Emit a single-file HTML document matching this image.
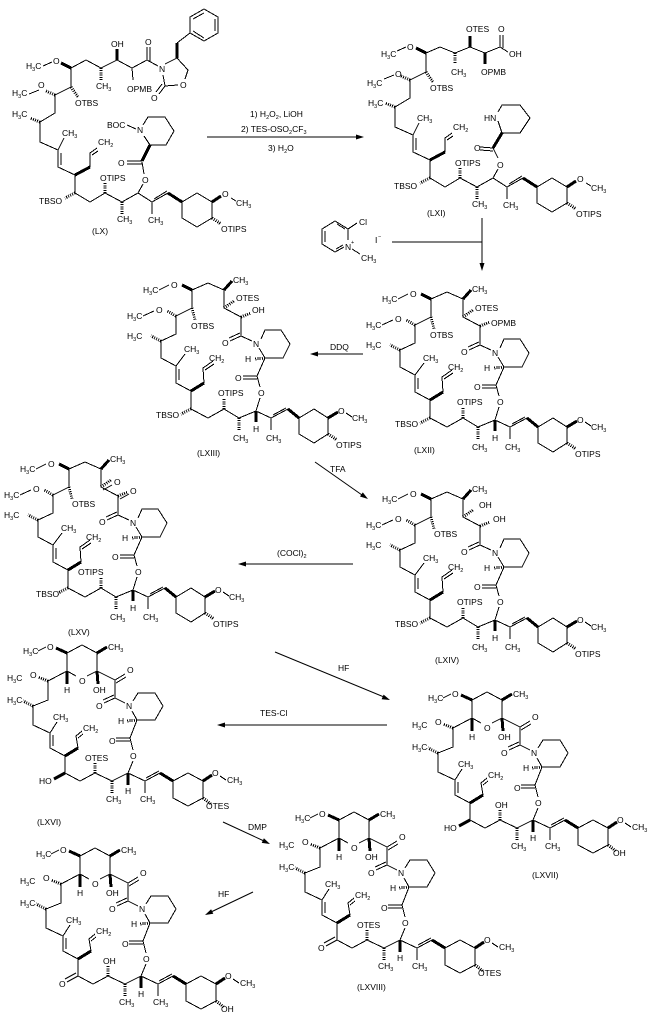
<!DOCTYPE html>
<html><head><meta charset="utf-8"><style>
html,body{margin:0;padding:0;background:#fff;}
svg{display:block;}
text{font-family:"Liberation Sans",Arial,sans-serif;font-size:8.5px;fill:#000;}
.s{font-size:5.5px;}
</style></head><body>
<svg width="652" height="1019" viewBox="0 0 652 1019" xmlns="http://www.w3.org/2000/svg">
<rect width="652" height="1019" fill="#fff"/>
<defs>
<g id="mac" fill="none" stroke="#000" stroke-width="1" shape-rendering="crispEdges">
<path d="M431,299 L447,292 L463,299 L463,317 L480,326 L480,345 L491,350 M500,348 L504,339 L520,339 L529,353 L522,367 L504,367 L498,357 M504,367 L496,385 L499,396 M499,407 L495,420 L478,427 L463,418 L447,427 L430,418 L430,400 L415,392 L415,375 L400,367 L400,350 L415,343 L415,325 L431,317 L431,299 M418,389 L418,378 M415,375 L424,363 M443,392 L442,377 L452,370 M444,379 L453,373 M480,345 L469,350 M479,342 L468,347 M496,385 L482,385 M496,388 L482,388 M495,420 L510,427 L510,439 M510,427 L527,418 M512,424 L525,417 M538,427 L553,418 L567,427 L567,443 L553,452 L538,443 Z M585,422 L591,426 M398,299 L408,294 M382,325 L393,320"/>
<path stroke-width="3" d="M431,299 L421,294 M463,299 L471,290 M430,400 L443,392 M495,420 L495,431 M527,418 L538,427 M567,427 L577,421"/>
<path stroke-width="3" stroke-dasharray="1 1.2" d="M463,317 L473,310 M480,326 L490,322 M504,367 L494,368 M478,427 L478,439 M463,418 L463,408 M430,418 L420,423 M431,317 L434,329 M400,350 L390,345 M415,325 L406,320 M567,443 L576,449"/>
</g>
<g id="pyr" fill="none" stroke="#000" stroke-width="1" shape-rendering="crispEdges">
<path d="M472,700 L487,692 L502,700 L502,718 L492,723 M481,723 L472,718 L472,700 M502,718 L520,727 L520,745 L530,750 M538,748 L543,740 L560,740 L568,753 L560,767 L542,767 L537,758 M542,767 L535,785 L538,797 M538,808 L533,820 L517,828 L500,820 L485,828 L470,820 L470,803 L455,795 L455,780 L438,772 L438,753 L453,747 L453,728 L472,718 M458,793 L458,782 M455,780 L462,769 M483,795 L481,783 L487,778 M483,785 L488,781 M520,727 L530,721 M521,730 L531,724 M520,745 L509,750 M519,742 L508,747 M535,785 L521,785 M535,788 L521,788 M533,820 L550,828 L550,840 M550,828 L565,820 M551,825 L564,818 M578,828 L593,820 L608,828 L608,845 L593,853 L578,845 Z M625,823 L631,827 M443,698 L451,694"/>
<path stroke-width="3" d="M472,700 L461,695 M502,700 L512,694 M502,718 L503,731 M472,718 L472,731 M470,803 L483,795 M533,820 L533,832 M565,820 L578,828 M608,828 L617,822"/>
<path stroke-width="3" stroke-dasharray="1 1.2" d="M517,828 L517,840 M500,820 L500,809 M542,767 L532,768 M608,845 L616,851 M438,753 L428,748 M453,728 L443,724"/>
</g>
<g id="chn" fill="none" stroke="#000" stroke-width="1" shape-rendering="crispEdges">
<path d="M426,53 L426,72 L410,80 L410,98 L395,107 L395,127 L413,135 L413,152 L430,160 L430,178 L445,187 L460,178 L477,187 L493,178 L507,187 L523,178 M416,138 L416,150 M413,135 L419,123 M445,152 L445,138 L452,133 M447,140 L453,136 M493,178 L498,169 M507,187 L507,199 M509,184 L522,176 M537,187 L552,178 L567,187 L567,203 L552,212 L537,203 Z M586,183 L591,186 M384,79 L394,75"/>
<path stroke-width="3" d="M430,160 L445,152 M523,178 L537,187 M567,187 L576,181"/>
<path stroke-width="3" stroke-dasharray="1 1.2" d="M426,72 L433,82 M410,80 L401,76 M395,107 L385,103 M430,178 L420,183 M460,178 L460,167 M477,187 L477,199 M567,203 L576,209"/>
</g>
</defs>

<!-- LX -->
<g fill="none" stroke="#000" stroke-width="1" shape-rendering="crispEdges">
<path d="M71,68 L86,60 L101,68 L117,60 L132,68 L147,60 L158,66 M147,60 L147,47 M150,61 L150,47 M132,68 L133,80 M43,66 L52,62 M165,64 L177,58 L188,70 L185,79 M178,85 L165,86 L163,75 M165,86 L159,94 M162,84 L156,92 M177,43 L190,33 M190,33 L190,17 L204,9 L218,17 L218,33 L204,41 Z M193,19 L204,13 M215,19 L215,31 M204,38 L193,31 M143,125 L148,117 L165,117 L174,131 L166,145 L150,145 L144,136 M127,125 L136,129 M142,161 L127,161 M142,164 L127,164 M142,162 L144,174"/>
<path stroke-width="3" d="M71,68 L61,63 M117,60 L117,49 M177,58 L177,43 M150,145 L142,161"/>
<path stroke-width="3" stroke-dasharray="1 1.2" d="M101,68 L101,80"/>
</g>
<text x="26" y="69">H<tspan class="s" dy="2">3</tspan><tspan dy="-2">C</tspan></text>
<text x="53" y="64">O</text>
<text x="111" y="47">OH</text>
<text x="145" y="45">O</text>
<text x="96" y="89">CH<tspan class="s" dy="2">3</tspan></text>
<text x="127" y="92">OPMB</text>
<text x="159" y="72">N</text>
<text x="180" y="88">O</text>
<text x="151" y="101">O</text>
<text x="107" y="128">BOC</text>
<text x="137" y="133">N</text>
<text x="118" y="166">O</text>
<text x="92" y="234">(LX)</text>
<g transform="translate(-355,15)">
<use href="#chn"/>
<text x="367" y="81">H<tspan class="s" dy="2">3</tspan><tspan dy="-2">C</tspan></text>
<text x="393" y="73">O</text>
<text x="430" y="91">OTBS</text>
<text x="367" y="102">H<tspan class="s" dy="2">3</tspan><tspan dy="-2">C</tspan></text>
<text x="417" y="121">CH<tspan class="s" dy="2">3</tspan></text>
<text x="453" y="130">CH<tspan class="s" dy="2">2</tspan></text>
<text x="455" y="166">OTIPS</text>
<text x="394" y="189">TBSO</text>
<text x="472" y="207">CH<tspan class="s" dy="2">3</tspan></text>
<text x="503" y="208">CH<tspan class="s" dy="2">3</tspan></text>
<text x="497" y="168">O</text>
<text x="577" y="182">O</text>
<text x="591" y="191">CH<tspan class="s" dy="2">3</tspan></text>
<text x="576" y="217">OTIPS</text>
</g>

<!-- LXI -->
<use href="#chn"/>
<g fill="none" stroke="#000" stroke-width="1" shape-rendering="crispEdges">
<path d="M426,53 L440,47 L455,53 L470,47 L485,53 L500,47 L508,52 M500,47 L500,35 M503,48 L503,35 M397,51 L406,47 M502,133 L520,133 L530,118 L520,105 L502,105 L498,112 M498,121 L502,133 M493,148 L480,147 M493,151 L480,150 M493,148 L498,158"/>
<path stroke-width="3" d="M426,53 L416,48 M470,47 L470,36 M485,53 L485,64 M502,133 L493,148"/>
<path stroke-width="3" stroke-dasharray="1 1.2" d="M455,53 L455,64"/>
</g>
<text x="381" y="57">H<tspan class="s" dy="2">3</tspan><tspan dy="-2">C</tspan></text>
<text x="407" y="50">O</text>
<text x="451" y="75">CH<tspan class="s" dy="2">3</tspan></text>
<text x="466" y="32">OTES</text>
<text x="481" y="75">OPMB</text>
<text x="498" y="32">O</text>
<text x="509" y="57">OH</text>
<text x="484" y="121">HN</text>
<text x="474" y="151">O</text>
<text x="367" y="86">H<tspan class="s" dy="2">3</tspan><tspan dy="-2">C</tspan></text>
<text x="395" y="77">O</text>
<text x="430" y="91">OTBS</text>
<text x="368" y="106">H<tspan class="s" dy="2">3</tspan><tspan dy="-2">C</tspan></text>
<text x="417" y="121">CH<tspan class="s" dy="2">3</tspan></text>
<text x="453" y="130">CH<tspan class="s" dy="2">2</tspan></text>
<text x="455" y="166">OTIPS</text>
<text x="394" y="189">TBSO</text>
<text x="472" y="207">CH<tspan class="s" dy="2">3</tspan></text>
<text x="503" y="208">CH<tspan class="s" dy="2">3</tspan></text>
<text x="497" y="168">O</text>
<text x="577" y="182">O</text>
<text x="591" y="191">CH<tspan class="s" dy="2">3</tspan></text>
<text x="576" y="217">OTIPS</text>
<text x="427" y="216">(LXI)</text>

<!-- arrow 1 -->
<g stroke="#000" stroke-width="1" fill="none" shape-rendering="crispEdges"><path d="M207,137 L357,137"/></g>
<polygon points="364,137 356,134.5 356,139.5" fill="#000"/>
<text x="250" y="117">1) H<tspan class="s" dy="2">2</tspan><tspan dy="-2">O</tspan><tspan class="s" dy="2">2</tspan><tspan dy="-2">, LiOH</tspan></text>
<text x="241" y="132">2) TES-OSO<tspan class="s" dy="2">2</tspan><tspan dy="-2">CF</tspan><tspan class="s" dy="2">3</tspan></text>
<text x="268" y="151">3) H<tspan class="s" dy="2">2</tspan><tspan dy="-2">O</tspan></text>

<!-- pyridinium reagent -->
<g stroke="#000" stroke-width="1" fill="none" shape-rendering="crispEdges">
<path d="M348,240 L348,229 L335,221 L322,229 L322,244 L335,252 L344,247 M325,231 L325,242 M337,224 L345,229 M336,249 L343,245 M348,229 L357,223 M352,249 L360,254 M392,242 L482,242 M482,218 L482,264"/>
</g>
<polygon points="482,271 479.5,263 484.5,263" fill="#000"/>
<text x="359" y="225">Cl</text>
<text x="345" y="250">N</text>
<text x="351" y="244" class="s">+</text>
<text x="361" y="261">CH<tspan class="s" dy="2">3</tspan></text>
<text x="375" y="243">I</text>
<text x="378" y="238" class="s">−</text>

<!-- LXII -->
<use href="#mac"/>
<text x="382" y="302">H<tspan class="s" dy="2">3</tspan><tspan dy="-2">C</tspan></text>
<text x="410" y="297">O</text>
<text x="366" y="328">H<tspan class="s" dy="2">3</tspan><tspan dy="-2">C</tspan></text>
<text x="395" y="322">O</text>
<text x="366" y="348">H<tspan class="s" dy="2">3</tspan><tspan dy="-2">C</tspan></text>
<text x="423" y="361">CH<tspan class="s" dy="2">3</tspan></text>
<text x="448" y="370">CH<tspan class="s" dy="2">2</tspan></text>
<text x="430" y="338">OTBS</text>
<text x="472" y="292">CH<tspan class="s" dy="2">3</tspan></text>
<text x="475" y="311">OTES</text>
<text x="491" y="326">OPMB</text>
<text x="461" y="355">O</text>
<text x="492" y="356">N</text>
<text x="484" y="371">H</text>
<text x="474" y="390">O</text>
<text x="497" y="405">O</text>
<text x="457" y="405">OTIPS</text>
<text x="395" y="427">TBSO</text>
<text x="492" y="441">H</text>
<text x="472" y="450">CH<tspan class="s" dy="2">3</tspan></text>
<text x="505" y="450">CH<tspan class="s" dy="2">3</tspan></text>
<text x="577" y="423">O</text>
<text x="591" y="430">CH<tspan class="s" dy="2">3</tspan></text>
<text x="575" y="457">OTIPS</text>
<text x="414" y="453">(LXII)</text>

<!-- DDQ -->
<g stroke="#000" stroke-width="1" fill="none" shape-rendering="crispEdges"><path d="M363,354 L317,354"/></g>
<polygon points="310,354 318,351.5 318,356.5" fill="#000"/>
<text x="330" y="350">DDQ</text>

<!-- LXIII -->
<g transform="translate(-239,-9)">
<use href="#mac"/>
<text x="382" y="302">H<tspan class="s" dy="2">3</tspan><tspan dy="-2">C</tspan></text>
<text x="410" y="297">O</text>
<text x="366" y="328">H<tspan class="s" dy="2">3</tspan><tspan dy="-2">C</tspan></text>
<text x="395" y="322">O</text>
<text x="366" y="348">H<tspan class="s" dy="2">3</tspan><tspan dy="-2">C</tspan></text>
<text x="423" y="361">CH<tspan class="s" dy="2">3</tspan></text>
<text x="448" y="370">CH<tspan class="s" dy="2">2</tspan></text>
<text x="430" y="338">OTBS</text>
<text x="472" y="292">CH<tspan class="s" dy="2">3</tspan></text>
<text x="475" y="310">OTES</text>
<text x="491" y="322">OH</text>
<text x="461" y="355">O</text>
<text x="492" y="356">N</text>
<text x="484" y="371">H</text>
<text x="474" y="390">O</text>
<text x="497" y="405">O</text>
<text x="457" y="405">OTIPS</text>
<text x="395" y="427">TBSO</text>
<text x="492" y="441">H</text>
<text x="472" y="450">CH<tspan class="s" dy="2">3</tspan></text>
<text x="505" y="450">CH<tspan class="s" dy="2">3</tspan></text>
<text x="577" y="423">O</text>
<text x="591" y="430">CH<tspan class="s" dy="2">3</tspan></text>
<text x="575" y="457">OTIPS</text>
</g>
<text x="197" y="456">(LXIII)</text>

<!-- TFA -->
<g stroke="#000" stroke-width="1" fill="none"><path d="M315,462 L362,495"/></g>
<polygon points="368,499 360,496.5 362.8,492.4" fill="#000"/>
<text x="330" y="472">TFA</text>

<!-- LXIV -->
<g transform="translate(0,200)">
<use href="#mac"/>
<text x="382" y="302">H<tspan class="s" dy="2">3</tspan><tspan dy="-2">C</tspan></text>
<text x="410" y="297">O</text>
<text x="366" y="328">H<tspan class="s" dy="2">3</tspan><tspan dy="-2">C</tspan></text>
<text x="395" y="322">O</text>
<text x="366" y="348">H<tspan class="s" dy="2">3</tspan><tspan dy="-2">C</tspan></text>
<text x="423" y="361">CH<tspan class="s" dy="2">3</tspan></text>
<text x="448" y="370">CH<tspan class="s" dy="2">2</tspan></text>
<text x="434" y="337">OTBS</text>
<text x="472" y="292">CH<tspan class="s" dy="2">3</tspan></text>
<text x="479" y="308">OH</text>
<text x="493" y="322">OH</text>
<text x="461" y="355">O</text>
<text x="492" y="356">N</text>
<text x="484" y="371">H</text>
<text x="474" y="390">O</text>
<text x="497" y="405">O</text>
<text x="457" y="405">OTIPS</text>
<text x="395" y="427">TBSO</text>
<text x="492" y="441">H</text>
<text x="472" y="450">CH<tspan class="s" dy="2">3</tspan></text>
<text x="505" y="450">CH<tspan class="s" dy="2">3</tspan></text>
<text x="577" y="423">O</text>
<text x="591" y="430">CH<tspan class="s" dy="2">3</tspan></text>
<text x="575" y="457">OTIPS</text>
</g>
<text x="435" y="663">(LXIV)</text>

<!-- (COCl)2 -->
<g stroke="#000" stroke-width="1" fill="none" shape-rendering="crispEdges"><path d="M353,564 L245,564"/></g>
<polygon points="238,564 246,561.5 246,566.5" fill="#000"/>
<text x="277" y="556">(COCl)<tspan class="s" dy="2">2</tspan></text>

<!-- LXV -->
<g transform="translate(-362,170)">
<use href="#mac"/>
<g stroke="#000" stroke-width="1" fill="none"><path d="M465,320 L474,315 M482,329 L491,324"/></g>
<text x="382" y="302">H<tspan class="s" dy="2">3</tspan><tspan dy="-2">C</tspan></text>
<text x="410" y="297">O</text>
<text x="366" y="328">H<tspan class="s" dy="2">3</tspan><tspan dy="-2">C</tspan></text>
<text x="395" y="322">O</text>
<text x="366" y="348">H<tspan class="s" dy="2">3</tspan><tspan dy="-2">C</tspan></text>
<text x="423" y="361">CH<tspan class="s" dy="2">3</tspan></text>
<text x="448" y="370">CH<tspan class="s" dy="2">2</tspan></text>
<text x="434" y="337">OTBS</text>
<text x="472" y="292">CH<tspan class="s" dy="2">3</tspan></text>
<text x="476" y="315">O</text>
<text x="492" y="324">O</text>
<text x="461" y="355">O</text>
<text x="492" y="356">N</text>
<text x="484" y="371">H</text>
<text x="474" y="390">O</text>
<text x="497" y="405">O</text>
<text x="440" y="405">OTIPS</text>
<text x="398" y="427">TBSO</text>
<text x="492" y="441">H</text>
<text x="472" y="450">CH<tspan class="s" dy="2">3</tspan></text>
<text x="505" y="450">CH<tspan class="s" dy="2">3</tspan></text>
<text x="577" y="423">O</text>
<text x="591" y="430">CH<tspan class="s" dy="2">3</tspan></text>
<text x="575" y="457">OTIPS</text>
</g>
<text x="68" y="635">(LXV)</text>

<!-- HF arrow 1 -->
<g stroke="#000" stroke-width="1" fill="none"><path d="M275,652 L384,697"/></g>
<polygon points="390,700 381.6,699.2 383.6,694.6" fill="#000"/>
<text x="338" y="671">HF</text>

<!-- LXVII -->
<use href="#pyr"/>
<g stroke="#000" stroke-width="3" fill="none"><path d="M470,820 L459,826"/></g>
<text x="428" y="701">H<tspan class="s" dy="2">3</tspan><tspan dy="-2">C</tspan></text>
<text x="452" y="697">O</text>
<text x="513" y="697">CH<tspan class="s" dy="2">3</tspan></text>
<text x="484" y="731">O</text>
<text x="498" y="740">OH</text>
<text x="469" y="740">H</text>
<text x="532" y="720">O</text>
<text x="501" y="756">O</text>
<text x="531" y="756">N</text>
<text x="523" y="771">H</text>
<text x="514" y="791">O</text>
<text x="535" y="806">O</text>
<text x="458" y="767">CH<tspan class="s" dy="2">3</tspan></text>
<text x="488" y="778">CH<tspan class="s" dy="2">2</tspan></text>
<text x="412" y="728">H<tspan class="s" dy="2">3</tspan><tspan dy="-2">C</tspan></text>
<text x="435" y="725">O</text>
<text x="412" y="750">H<tspan class="s" dy="2">3</tspan><tspan dy="-2">C</tspan></text>
<text x="444" y="831">HO</text>
<text x="495" y="808">OH</text>
<text x="511" y="849">CH<tspan class="s" dy="2">3</tspan></text>
<text x="530" y="841">H</text>
<text x="545" y="849">CH<tspan class="s" dy="2">3</tspan></text>
<text x="617" y="823">O</text>
<text x="632" y="830">CH<tspan class="s" dy="2">3</tspan></text>
<text x="613" y="856">OH</text>
<text x="532" y="878">(LXVII)</text>

<!-- TES-Cl -->
<g stroke="#000" stroke-width="1" fill="none" shape-rendering="crispEdges"><path d="M387,725 L224,725"/></g>
<polygon points="217,725 225,722.5 225,727.5" fill="#000"/>
<text x="260" y="716">TES-Cl</text>

<!-- LXVI -->
<g transform="translate(-405,-47)">
<use href="#pyr"/>
<g stroke="#000" stroke-width="3" fill="none"><path d="M470,820 L459,826"/></g>
<text x="428" y="701">H<tspan class="s" dy="2">3</tspan><tspan dy="-2">C</tspan></text>
<text x="452" y="697">O</text>
<text x="513" y="697">CH<tspan class="s" dy="2">3</tspan></text>
<text x="484" y="731">O</text>
<text x="498" y="740">OH</text>
<text x="469" y="740">H</text>
<text x="532" y="720">O</text>
<text x="501" y="756">O</text>
<text x="531" y="756">N</text>
<text x="523" y="771">H</text>
<text x="514" y="791">O</text>
<text x="535" y="806">O</text>
<text x="458" y="767">CH<tspan class="s" dy="2">3</tspan></text>
<text x="488" y="778">CH<tspan class="s" dy="2">2</tspan></text>
<text x="412" y="728">H<tspan class="s" dy="2">3</tspan><tspan dy="-2">C</tspan></text>
<text x="435" y="725">O</text>
<text x="412" y="750">H<tspan class="s" dy="2">3</tspan><tspan dy="-2">C</tspan></text>
<text x="444" y="831">HO</text>
<text x="490" y="808">OTES</text>
<text x="511" y="849">CH<tspan class="s" dy="2">3</tspan></text>
<text x="530" y="841">H</text>
<text x="545" y="849">CH<tspan class="s" dy="2">3</tspan></text>
<text x="617" y="823">O</text>
<text x="632" y="830">CH<tspan class="s" dy="2">3</tspan></text>
<text x="611" y="856">OTES</text>
</g>
<text x="37" y="825">(LXVI)</text>

<!-- DMP -->
<g stroke="#000" stroke-width="1" fill="none"><path d="M223,822 L264,841"/></g>
<polygon points="270,844 261.7,842.9 263.9,838.3" fill="#000"/>
<text x="248" y="830">DMP</text>

<!-- LXVIII -->
<g transform="translate(-133,120)">
<use href="#pyr"/>
<g stroke="#000" stroke-width="1" fill="none"><path d="M470,820 L459,826 M468,817 L457,823"/></g>
<text x="428" y="701">H<tspan class="s" dy="2">3</tspan><tspan dy="-2">C</tspan></text>
<text x="452" y="697">O</text>
<text x="513" y="697">CH<tspan class="s" dy="2">3</tspan></text>
<text x="484" y="731">O</text>
<text x="498" y="740">OH</text>
<text x="469" y="740">H</text>
<text x="532" y="720">O</text>
<text x="501" y="756">O</text>
<text x="531" y="756">N</text>
<text x="523" y="771">H</text>
<text x="514" y="791">O</text>
<text x="535" y="806">O</text>
<text x="458" y="767">CH<tspan class="s" dy="2">3</tspan></text>
<text x="488" y="778">CH<tspan class="s" dy="2">2</tspan></text>
<text x="412" y="728">H<tspan class="s" dy="2">3</tspan><tspan dy="-2">C</tspan></text>
<text x="435" y="725">O</text>
<text x="412" y="750">H<tspan class="s" dy="2">3</tspan><tspan dy="-2">C</tspan></text>
<text x="451" y="831">O</text>
<text x="490" y="808">OTES</text>
<text x="511" y="849">CH<tspan class="s" dy="2">3</tspan></text>
<text x="530" y="841">H</text>
<text x="545" y="849">CH<tspan class="s" dy="2">3</tspan></text>
<text x="617" y="823">O</text>
<text x="632" y="830">CH<tspan class="s" dy="2">3</tspan></text>
<text x="611" y="856">OTES</text>
</g>
<text x="357" y="990">(LXVIII)</text>

<!-- HF arrow 2 -->
<g stroke="#000" stroke-width="1" fill="none"><path d="M253,892 L211,912"/></g>
<polygon points="205,915 213.3,913.8 211.1,909.3" fill="#000"/>
<text x="218" y="897">HF</text>

<!-- final product -->
<g transform="translate(-392,156)">
<use href="#pyr"/>
<g stroke="#000" stroke-width="1" fill="none"><path d="M470,820 L459,826 M468,817 L457,823"/></g>
<text x="428" y="701">H<tspan class="s" dy="2">3</tspan><tspan dy="-2">C</tspan></text>
<text x="452" y="697">O</text>
<text x="513" y="697">CH<tspan class="s" dy="2">3</tspan></text>
<text x="484" y="731">O</text>
<text x="498" y="740">OH</text>
<text x="469" y="740">H</text>
<text x="532" y="720">O</text>
<text x="501" y="756">O</text>
<text x="531" y="756">N</text>
<text x="523" y="771">H</text>
<text x="514" y="791">O</text>
<text x="535" y="806">O</text>
<text x="458" y="767">CH<tspan class="s" dy="2">3</tspan></text>
<text x="488" y="778">CH<tspan class="s" dy="2">2</tspan></text>
<text x="412" y="728">H<tspan class="s" dy="2">3</tspan><tspan dy="-2">C</tspan></text>
<text x="435" y="725">O</text>
<text x="412" y="750">H<tspan class="s" dy="2">3</tspan><tspan dy="-2">C</tspan></text>
<text x="451" y="831">O</text>
<text x="495" y="808">OH</text>
<text x="511" y="849">CH<tspan class="s" dy="2">3</tspan></text>
<text x="530" y="841">H</text>
<text x="545" y="849">CH<tspan class="s" dy="2">3</tspan></text>
<text x="617" y="823">O</text>
<text x="632" y="830">CH<tspan class="s" dy="2">3</tspan></text>
<text x="613" y="856">OH</text>
</g>
</svg>
</body></html>
